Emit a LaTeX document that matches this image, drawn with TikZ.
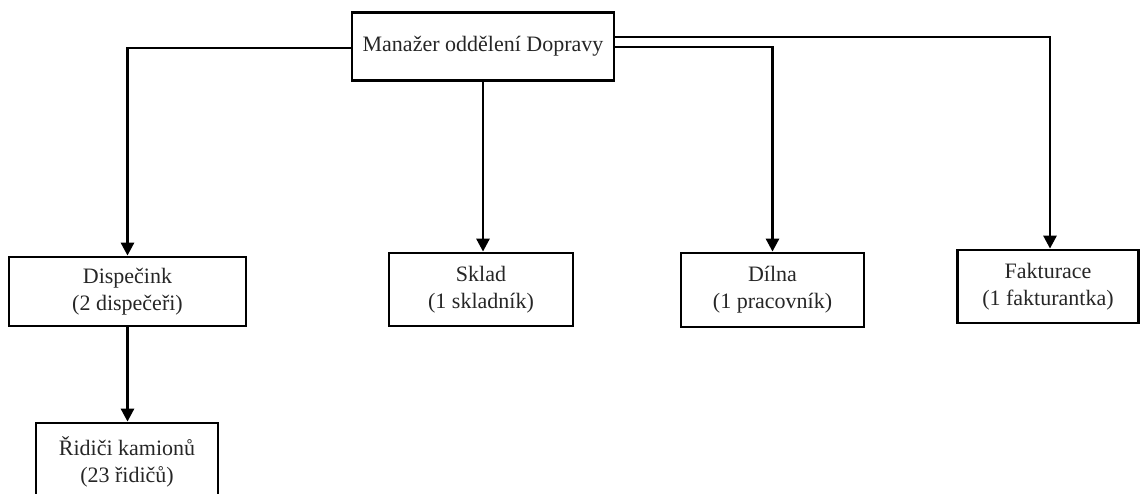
\documentclass[tikz,border=0pt]{standalone}
\usepackage{fontspec}
\setmainfont{Liberation Serif}
\usetikzlibrary{arrows.meta}
\begin{document}
\begin{tikzpicture}[x=1pt,y=-1pt,
  box/.style={draw=black,line width=2.8pt,rectangle,align=center,inner sep=0pt,
    font=\fontsize{22}{27}\selectfont,text=black!85},
  arr/.style={draw=black,line width=2.8pt,-{Triangle[length=13pt,width=13pt]}}]
\useasboundingbox (0,0) rectangle (1140,493);
\node[box,minimum width=262pt,minimum height=68pt] (top) at (483,46.5) {Manažer oddělení Dopravy};
\node[box,minimum width=237pt,minimum height=69pt] (disp) at (127.5,291.5) {Dispečink\\(2 dispečeři)};
\node[box,minimum width=184pt,minimum height=73pt] (sklad) at (481,289.5) {Sklad\\(1 skladník)};
\node[box,minimum width=183pt,minimum height=74pt] (dilna) at (772.5,290) {Dílna\\(1 pracovník)};
\node[box,minimum width=181pt,minimum height=73pt] (fakt) at (1048,286.5) {Fakturace\\(1 fakturantka)};
\node[box,minimum width=182pt,minimum height=78pt] (ridici) at (127,462) {Řidiči kamionů\\(23 řidičů)};
\draw[arr] ([yshift=-1.5pt]top.west) -| (disp.north);
\draw[arr] ([yshift=9.5pt]top.east) -| ([xshift=2pt]fakt.north);
\draw[arr] ([yshift=-0.5pt]top.east) -| (dilna.north);
\draw[arr] (top.south) -- (top.south |- sklad.north);
\draw[arr] (disp.south) -- (disp.south |- ridici.north);
\end{tikzpicture}
\end{document}
